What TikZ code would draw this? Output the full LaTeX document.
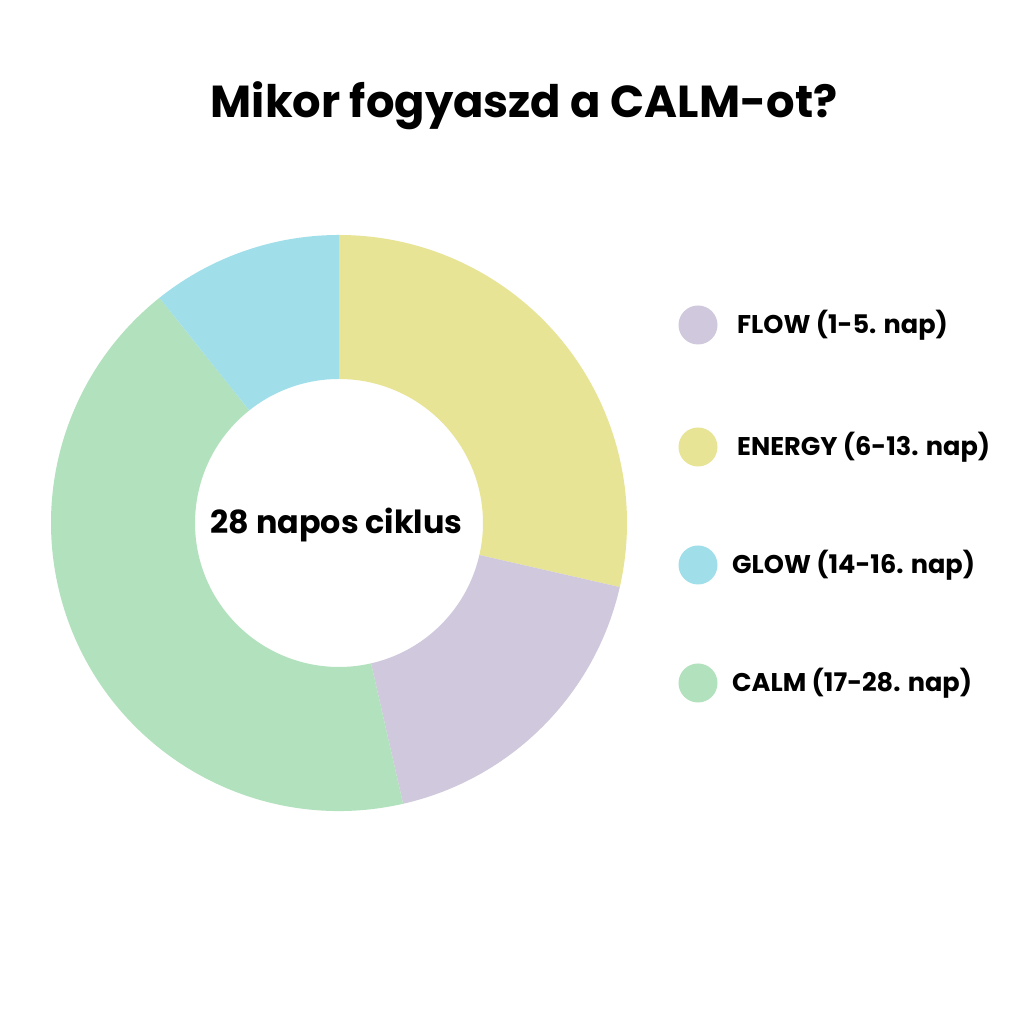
\documentclass[tikz,border=0pt]{standalone}
\usepackage{fontspec}
\usetikzlibrary{calc}
\setmainfont{Poppins}[BoldFont={* Bold}]
\definecolor{cflow}{HTML}{D0C8DC}
\definecolor{cenergy}{HTML}{E8E496}
\definecolor{cglow}{HTML}{A0DFEA}
\definecolor{ccalm}{HTML}{B2E1BD}
\begin{document}
\begin{tikzpicture}[x=1pt,y=1pt,
  dot/.style={circle,minimum size=39pt,inner sep=0pt},
  lab/.style={anchor=west,font=\fontsize{25.6}{29}\selectfont\bfseries,inner sep=0pt}]
\useasboundingbox[fill=white] (0,0) rectangle (1024,1024);
\coordinate (c) at (339,501);
\def\R{288}\def\r{144}
% Energy: 90 -> -12.857
\fill[cenergy] ($(c)+(90:\R)$) arc[start angle=90,end angle=-12.857,radius=\R] -- ($(c)+(-12.857:\r)$) arc[start angle=-12.857,end angle=90,radius=\r] -- cycle;
% Flow: -12.857 -> -77.143
\fill[cflow] ($(c)+(-12.857:\R)$) arc[start angle=-12.857,end angle=-77.143,radius=\R] -- ($(c)+(-77.143:\r)$) arc[start angle=-77.143,end angle=-12.857,radius=\r] -- cycle;
% Calm: -77.143 -> -231.43
\fill[ccalm] ($(c)+(-77.143:\R)$) arc[start angle=-77.143,end angle=-231.43,radius=\R] -- ($(c)+(128.57:\r)$) arc[start angle=128.57,end angle=282.857,radius=\r] -- cycle;
% Glow: 128.57 -> 90
\fill[cglow] ($(c)+(128.57:\R)$) arc[start angle=128.57,end angle=90,radius=\R] -- ($(c)+(90:\r)$) arc[start angle=90,end angle=128.57,radius=\r] -- cycle;
\node[font=\fontsize{31.8}{35}\selectfont\bfseries] (center) at (336.5,499) {28 napos ciklus};
\node[font=\fontsize{44.8}{50}\selectfont\bfseries] (title) at (524,918) {Mikor fogyaszd a CALM-ot?};
\node[dot,fill=cflow] (d1) at (698,699) {};
\node[dot,fill=cenergy] (d2) at (698,577) {};
\node[dot,fill=cglow] (d3) at (698,459) {};
\node[dot,fill=ccalm] (d4) at (698,341) {};
\node[lab] (l1) at (737,699) {FLOW (1-5. nap)};
\node[lab] (l2) at (737,577) {ENERGY (6-13. nap)};
\node[lab] (l3) at (732,459) {GLOW (14-16. nap)};
\node[lab] (l4) at (732,341) {CALM (17-28. nap)};
\end{tikzpicture}
\end{document}
